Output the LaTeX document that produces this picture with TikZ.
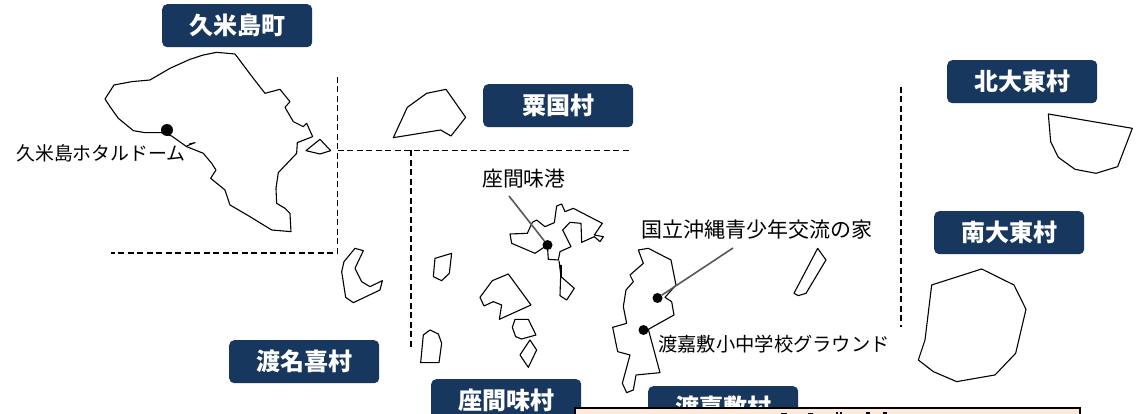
\documentclass[tikz,border=0pt]{standalone}
\usepackage{fontspec}
\newfontfamily\cjk{Noto Sans CJK JP}
\definecolor{navy}{HTML}{17375E}
\definecolor{peach}{HTML}{FDEADA}
\tikzset{
  x=1pt,y=-1pt,
  islandline/.style={line width=1.1pt,black,line join=round},
  zoomA/.style={shift={(#1)},x=0.3333pt,y=-0.3333pt},
  border/.style={line width=1.2pt,dash pattern=on 6pt off 3.5pt,black},
  town/.style={fill=navy,rounded corners=5pt,minimum width=150pt,minimum height=43pt,inner sep=0pt,anchor=north west,
    text=white,font=\cjk\fontsize{24}{24}\selectfont\bfseries},
  place/.style={inner sep=0pt,text=black,anchor=west,font=\cjk\fontsize{#1}{#1}\selectfont},
  site/.style={circle,fill=black,inner sep=0pt,minimum size=10pt},
  leader/.style={line width=1.6pt,black!65},
  notebox/.style={fill=peach,draw=black,line width=2pt,anchor=north west,minimum width=505pt,minimum height=60pt,inner sep=0pt},
  cutglyph/.style={line width=1.6pt,black}
}
\begin{document}
\begin{tikzpicture}
\useasboundingbox (0,0) rectangle (1138,414);
\clip (0,0) rectangle (1138,414);
\fill[white] (0,0) rectangle (1138,414);

% dashed boundaries
\coordinate (a1) at (337.5,77);
\coordinate (a2) at (337.5,253);
\coordinate (a3) at (111,253);
\coordinate (b1) at (337.5,150.5);
\coordinate (b2) at (632,150.5);
\coordinate (c1) at (411,150.5);
\coordinate (c2) at (411,350);
\coordinate (d1) at (901,87);
\coordinate (d2) at (901,327);
\draw[border] (a1) -- (a2) -- (a3);
\draw[border] (b1) -- (b2);
\draw[border] (c1) -- (c2);
\draw[border] (d1) -- (d2);

% islands: Kume
\begin{scope}[zoomA={90,0}]
\draw[islandline] (435,162)--(380,157)--(340,165)--(300,178)--(240,205)--(180,240)--(125,245)--(72,255)--(45,297)--(60,320)--(85,355)--(130,392)--(165,398)--(215,398)--(245,408)--(290,440)--(340,460)--(365,490)--(378,510)--(362,535)--(405,570)--(420,615)--(480,650)--(545,690)--(603,695)--(600,640)--(585,625)--(560,610)--(558,565)--(565,518)--(620,460)--(622,428)--(668,410)--(650,370)--(640,380)--(610,365)--(585,322)--(600,305)--(570,268)--(525,280)--(490,235)--cycle;
\draw[islandline] (690,418)--(722,452)--(690,462)--(648,452)--cycle;
\draw[islandline] (290,438)--(315,428)--(298,432);
\end{scope}
% Aguni
\begin{scope}[zoomA={330,70}]
\draw[islandline] (190,203)--(232,112)--(290,70)--(348,58)--(407,142)--(363,198)--(332,180)--cycle;
\end{scope}
% Zamami
\begin{scope}[zoomA={490,190}]
\draw[islandline] (127,97)--(140,90)--(165,110)--(193,98)--(200,48)--(215,42)--(225,65)--(250,55)--(337,100)--(313,135)--(340,140)--(330,155)--(313,140)--(275,157)--(273,100)--(240,97)--(218,120)--(243,170)--(210,185)--(205,210)--(175,208)--(172,165)--(135,190)--(65,160)--(60,132)--(112,130)--cycle;
\draw[islandline] (207,212)--(213,260)--(253,295)--(230,330)--(210,317)--(213,225);
\draw[line width=1.8pt,black] (213,225)--(213,260);
\end{scope}
% Tonaki and Kerama small islands
\begin{scope}[zoomA={330,240}]
\draw[islandline] (75,25)--(100,32)--(75,85)--(95,125)--(120,140)--(157,122)--(150,150)--(70,188)--(47,172)--(35,95)--(42,65)--cycle;
\draw[islandline] (365,40)--(315,55)--(310,110)--(335,122)--(358,100)--cycle;
\draw[islandline] (535,102)--(487,122)--(450,172)--(462,198)--(490,185)--(515,195)--(508,238)--(603,195)--cycle;
\draw[islandline] (555,238)--(595,238)--(618,285)--(575,297)--(557,290)--(547,262)--cycle;
\draw[islandline] (600,300)--(620,330)--(595,382)--(570,345)--cycle;
\draw[islandline] (300,270)--(280,285)--(272,368)--(327,368)--(335,310)--(325,282)--cycle;
\end{scope}
% Tokashiki
\begin{scope}[zoomA={570,210}]
\draw[islandline] (205,120)--(235,115)--(303,150)--(318,225)--(285,262)--(305,275)--(312,315)--(235,358)--(270,488)--(198,495)--(190,540)--(170,548)--(157,520)--(180,435)--(143,425)--(128,352)--(170,340)--(160,290)--(168,240)--(190,215)--(180,195)--(220,160)--cycle;
\draw[islandline] (743,115)--(768,150)--(708,250)--(685,257)--(672,250)--cycle;
\end{scope}
% Daito
\begin{scope}[zoomA={890,50}]
\draw[islandline] (475,192)--(727,235)--(683,350)--(618,370)--(555,358)--(505,322)--(482,275)--cycle;
\draw[islandline] (125,705)--(275,657)--(372,705)--(408,778)--(377,910)--(315,975)--(200,995)--(130,965)--(85,930)--(105,870)--cycle;
\end{scope}

% sites
\node[site,minimum size=12pt] (kumesite) at (167,130) {};
\node[site] (zamasite) at (547.5,245) {};
\node[site] (seisite) at (657.5,298) {};
\node[site] (tokasite) at (643.5,330) {};
\coordinate (zamaend) at (509,196);
\coordinate (seiend) at (733,248);
\draw[leader] (zamaend) -- (zamasite);
\draw[leader] (seiend) -- (seisite);

% place labels
\node[place=18.9] (lkume) at (16,153) {久米島ホタルドーム};
\node[place=20.8] (lport) at (482,179) {座間味港};
\node[place=21] (lsei) at (641,230) {国立沖縄青少年交流の家};
\node[place=19.3] (ltoka) at (658,344) {渡嘉敷小中学校グラウンド};

% town labels
\node[town] (kume) at (162,4) {久米島町};
\node[town] (aguni) at (483,84) {粟国村};
\node[town] (tonaki) at (229,340) {渡名喜村};
\node[town] (zamami) at (431,379) {座間味村};
\node[town] (tokashiki) at (648,386) {渡嘉敷村};
\node[town] (kita) at (947,60) {北大東村};
\node[town] (minami) at (934,211) {南大東村};

% note box, cut off by the lower edge, with the tops of its clipped lettering
\node[notebox] (note) at (574,407) {};
\draw[cutglyph] (781,413.5)--(787,413.5) (808,413.5)--(813,413.5) (837,411.5)--(837,414) (841,411.5)--(841,414) (866,413)--(870,413) (883,413)--(887,413);
\end{tikzpicture}
\end{document}
